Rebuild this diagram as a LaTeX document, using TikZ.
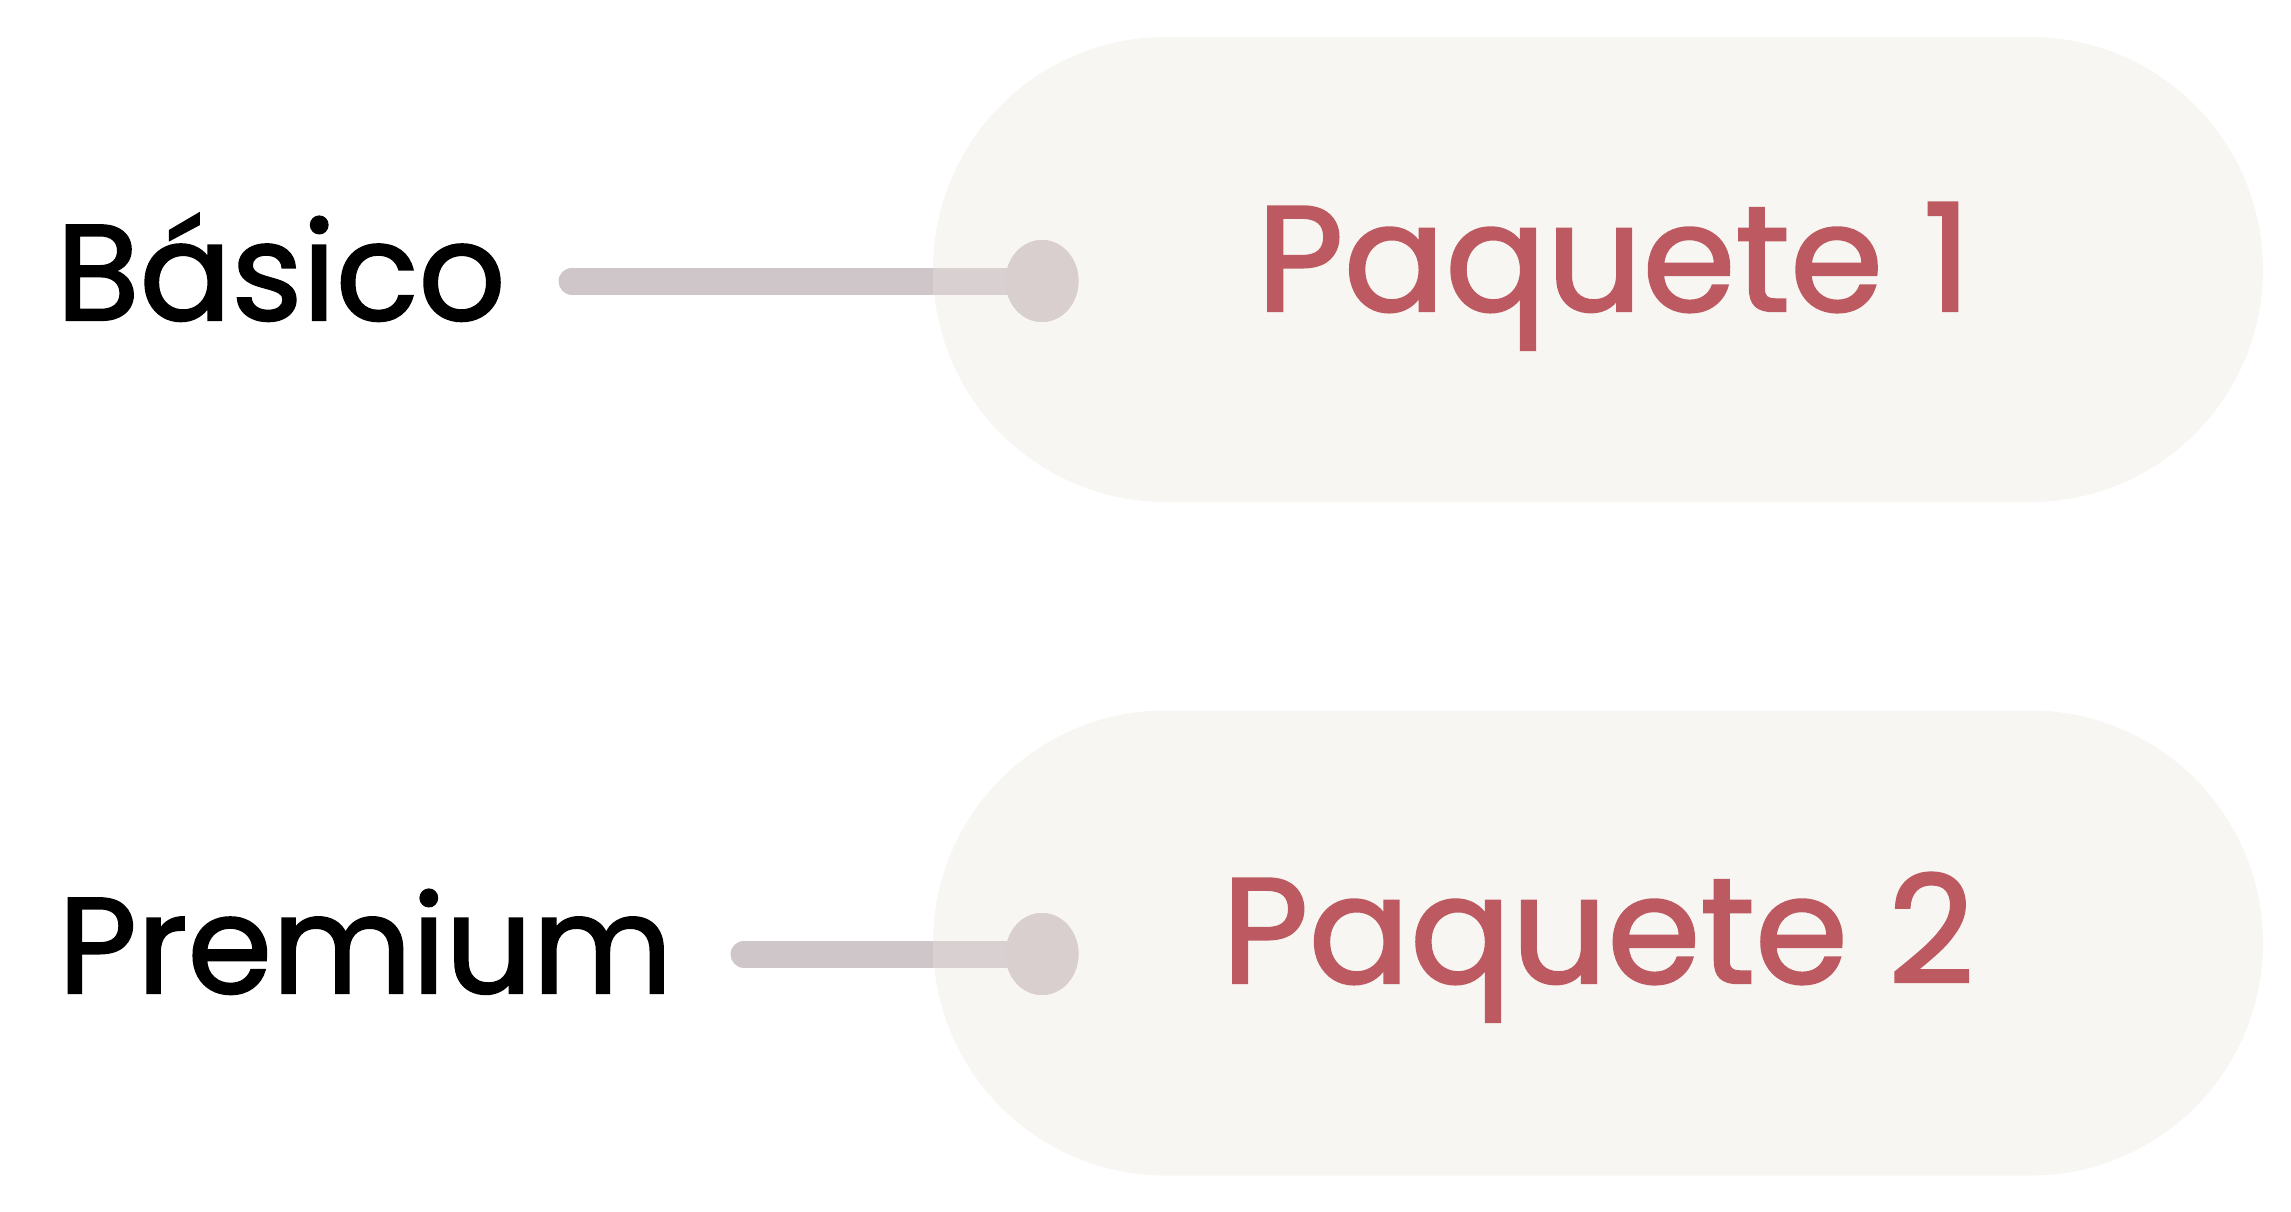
\documentclass[tikz,border=0pt]{standalone}
\usepackage{fontspec}
\setmainfont{Poppins}
\newfontfamily\medfont{Poppins}[FakeBold=1.6]
\usetikzlibrary{shapes.geometric,shapes.misc}
\definecolor{pillbg}{HTML}{F7F6F2}
\definecolor{linecol}{HTML}{CFC6CA}
\definecolor{lineinner}{HTML}{D9D1D1}
\definecolor{dotcol}{HTML}{D8CFCE}
\definecolor{pkgred}{HTML}{BD5A61}
\tikzset{
  pill/.style={rounded rectangle, fill=pillbg, minimum width=1330pt, minimum height=465pt, inner sep=0pt},
  dotnode/.style={ellipse, fill=dotcol, minimum width=73pt, minimum height=82pt, inner sep=0pt},
  conn/.style={line width=27pt, line cap=round},
  lbl/.style={anchor=base west, inner sep=0pt, font=\medfont\fontsize{136}{150}\selectfont},
  pkg/.style={anchor=base, inner sep=0pt, text=pkgred, font=\medfont\fontsize{150}{165}\selectfont}
}
\begin{document}
\begin{tikzpicture}[x=1pt,y=-1pt]
\useasboundingbox (0,0) rectangle (2291,1211);
% top row
\coordinate (s1) at (572,281);
\node[pill] (p1) at (1598,269.5) {};
\node[dotnode] (d1) at (1042,281) {};
\draw[conn, draw=linecol] (s1) -- (d1.west);
\begin{scope}
  \clip (933,37) rectangle (2263,502);
  \draw[conn, draw=lineinner] (s1) -- (d1.west);
\end{scope}
\node[dotnode] at (d1) {};
\node[lbl] (b1) at (56,320) {Básico};
\node[pkg] (t1) at (1614,311) {Paquete 1};
% bottom row
\coordinate (s2) at (744,954);
\node[pill] (p2) at (1598,943) {};
\node[dotnode] (d2) at (1042,954) {};
\draw[conn, draw=linecol] (s2) -- (d2.west);
\begin{scope}
  \clip (933,710) rectangle (2263,1176);
  \draw[conn, draw=lineinner] (s2) -- (d2.west);
\end{scope}
\node[dotnode] at (d2) {};
\node[lbl] (b2) at (58,993) {Premium};
\node[pkg] (t2) at (1598,983) {Paquete 2};
\end{tikzpicture}
\end{document}
